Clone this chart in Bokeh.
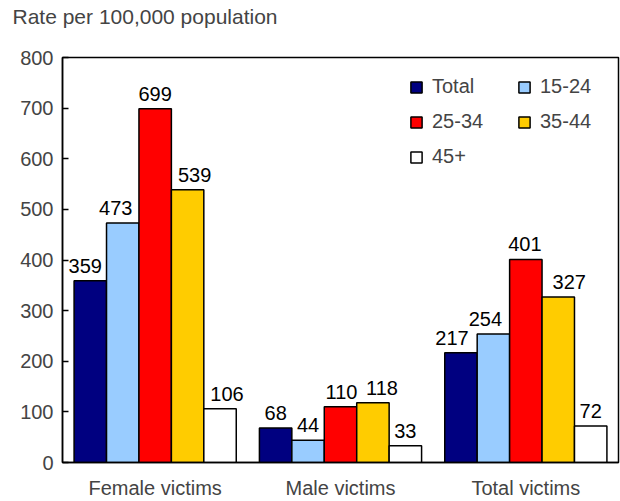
from bokeh.plotting import figure
from bokeh.models import ColumnDataSource, FactorRange, Legend, LegendItem
from bokeh.core.properties import value
from bokeh.transform import dodge
from bokeh.embed import file_html
from bokeh.resources import INLINE

categories = ["Female victims", "Male victims", "Total victims"]
series = ["Total", "15-24", "25-34", "35-44", "45+"]
total = [359, 68, 217]
age_15_24 = [473, 44, 254]
age_25_34 = [699, 110, 401]
age_35_44 = [539, 118, 327]
age_45_plus = [106, 33, 72]
colors = ["#000080", "#99CCFF", "#FF0000", "#FFCC00", "#FFFFFF"]
y_ticks = [0, 100, 200, 300, 400, 500, 600, 700, 800]
title_text = "Rate per 100,000 population"
# horizontal nudges (px) of the value labels, as placed in the original chart
label_nudge = [[-5, 0, -9], [-7, 0, -8], [0, 1, -1], [7, 9, 11], [7, 0, 0]]

values = [total, age_15_24, age_25_34, age_35_44, age_45_plus]
FONT = "Liberation Sans"
FS = "20px"

p = figure(width=620, height=501, x_range=FactorRange(*categories), y_range=(0, 800),
           output_backend="svg", toolbar_location=None,
           min_border_left=62, min_border_right=2, min_border_top=57, min_border_bottom=39)

# an empty second line keeps the title at the top of the figure, well above the frame
p.title.text = title_text + "\n"
p.title.text_font = FONT
p.title.text_font_size = "21px"
p.title.text_font_style = "normal"
p.title.text_line_height = 1.2
p.title.align = "left"
p.title.vertical_align = "top"
p.title.offset = -50
p.title.standoff = 0

bw = 0.175
offsets = [-2 * bw, -bw, 0, bw, 2 * bw]
items = []
for name, vals, col, off, nudge in zip(series, values, colors, offsets, label_nudge):
    src = ColumnDataSource(dict(x=categories, y=vals, lab=[str(v) for v in vals], dx=nudge))
    r = p.vbar(x=dodge("x", off, range=p.x_range), top="y", width=bw, source=src,
               fill_color=col, line_color="black", line_width=1.5)
    items.append(LegendItem(label=name, renderers=[r]))
    p.text(x=dodge("x", off, range=p.x_range), y="y", text="lab", source=src,
           x_offset="dx", y_offset=-15, text_align="center", text_baseline="alphabetic",
           text_font=value(FONT), text_font_size=FS, text_color="black")

legend = Legend(items=items, orientation="horizontal", ncols=2, location=(347, 294),
                margin=0, padding=0, spacing=12, glyph_width=14, glyph_height=14,
                label_standoff=9, label_text_font=FONT, label_text_font_size=FS,
                label_width=73, label_height=22,
                background_fill_alpha=0, border_line_alpha=0)
p.add_layout(legend, "center")

p.xgrid.visible = False
p.ygrid.visible = False
p.outline_line_color = "black"
p.outline_line_width = 1.5

p.yaxis.ticker = y_ticks
p.yaxis.major_tick_in = 6
p.yaxis.major_tick_out = 0
p.yaxis.minor_tick_line_color = None
p.yaxis.axis_line_width = 1.5
p.yaxis.major_tick_line_width = 1.5
p.yaxis.major_label_text_font = FONT
p.yaxis.major_label_text_font_size = FS
p.yaxis.major_label_standoff = 9

p.xaxis.major_tick_line_color = None
p.xaxis.axis_line_width = 1.5
p.xaxis.major_label_text_font = FONT
p.xaxis.major_label_text_font_size = FS
p.xaxis.major_label_standoff = 8

open("out.html", "w").write(file_html(p, INLINE))
